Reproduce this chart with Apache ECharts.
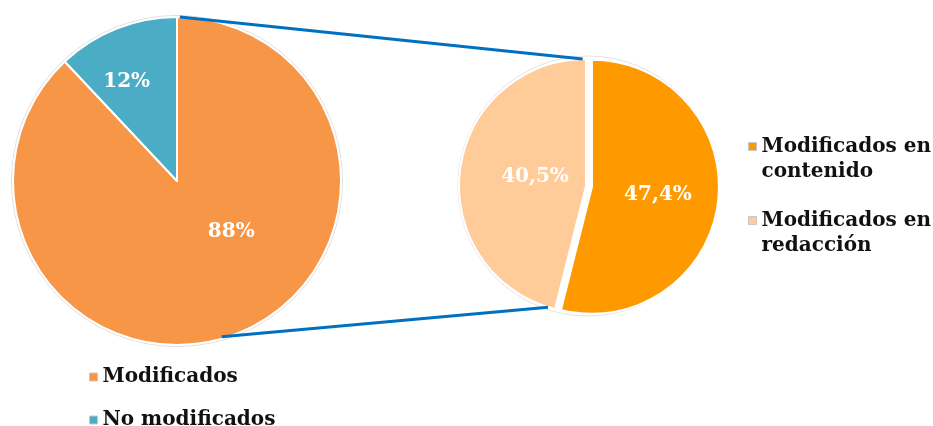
<!DOCTYPE html>
<html>
<head>
<meta charset="utf-8">
<script src="https://cdn.jsdelivr.net/npm/echarts@6/dist/echarts.min.js"></script>
<style>html,body{margin:0;padding:0;background:#fff}#c{width:933px;height:426px}</style>
</head>
<body>
<div id="c"></div>
<script>
// Data
const mainNames = ['Modificados', 'No modificados'];
const mainValues = [88, 12];
const mainLabels = ['88%', '12%'];
const subNames = ['Modificados en contenido', 'Modificados en redacción'];
const subValues = [47.4, 40.5];
const subLabels = ['47,4%', '40,5%'];

const FONT = 'DejaVu Serif';
const mainColors = ['#F79646', '#4BACC6'];
const subColors = ['#FF9900', '#FFCC99'];

const L = {c: [177, 181], r: 164};
const R = {c: [586, 186], r: 127};
function pt(p, deg, rr) {
  const a = deg * Math.PI / 180;
  return [p.c[0] + (rr || p.r) * Math.sin(a), p.c[1] - (rr || p.r) * Math.cos(a)];
}
const lt = pt(L, 1), lb = pt(L, 164, 162), rt = pt(R, -1.5), rb = pt(R, 197.4);

const chart = echarts.init(document.getElementById('c'));
const labelBase = {show: true, position: 'inside', color: '#fff', fontFamily: FONT, fontWeight: 'bold', fontSize: 20};
const mainOffsets = [[23, -28], [-19, -20]];
const subOffsets = [[5, 3], [15, -1]];
const legText = {fontFamily: FONT, fontWeight: 'bold', fontSize: 20, color: '#111'};

chart.setOption({
  animation: false,
  legend: [
    {
      data: mainNames, orient: 'vertical', left: 89, top: 366, height: 80, padding: 0,
      itemWidth: 8, itemHeight: 8, itemGap: 21,
      icon: 'rect', itemStyle: {borderColor: '#c8c8c8', borderWidth: 1},
      textStyle: Object.assign({lineHeight: 22}, legText)
    },
    {
      data: subNames, orient: 'vertical', left: 743, top: 104, itemWidth: 8, itemHeight: 8, itemGap: -1,
      icon: 'rect', itemStyle: {borderColor: '#c8c8c8', borderWidth: 1},
      formatter: function (n) {
        const parts = n.split(' en ');
        return ' \n' + parts[0] + ' en\n' + parts[1];
      },
      textStyle: Object.assign({lineHeight: 25}, legText)
    }
  ],
  series: [
    {
      type: 'pie', center: L.c, radius: L.r, startAngle: 90, clockwise: true,
      itemStyle: {borderColor: '#fff', borderWidth: 2},
      labelLine: {show: false},
      data: mainNames.map((n, i) => ({
        name: n, value: mainValues[i], itemStyle: {color: mainColors[i]},
        label: Object.assign({}, labelBase, {formatter: mainLabels[i], offset: mainOffsets[i]})
      }))
    },
    {
      type: 'pie', center: R.c, radius: R.r, startAngle: 90, clockwise: true,
      selectedMode: 'single', selectedOffset: 6,
      itemStyle: {borderColor: '#fff', borderWidth: 2},
      labelLine: {show: false},
      data: subNames.map((n, i) => ({
        name: n, value: subValues[i], selected: i === 0, itemStyle: {color: subColors[i]},
        label: Object.assign({}, labelBase, {formatter: subLabels[i], offset: subOffsets[i]})
      }))
    }
  ],
  graphic: [
    {type: 'circle', shape: {cx: L.c[0], cy: L.c[1], r: L.r + 1.5}, style: {fill: 'none', stroke: '#dcdcdc', lineWidth: 1}, z: -1},
    {type: 'circle', shape: {cx: R.c[0] + 2, cy: R.c[1], r: R.r + 3}, style: {fill: 'none', stroke: '#e2e2e2', lineWidth: 1}, z: -1},
    {type: 'line', shape: {x1: lt[0], y1: lt[1], x2: rt[0], y2: rt[1]}, style: {stroke: '#0070C0', lineWidth: 3}, z: 10},
    {type: 'line', shape: {x1: lb[0], y1: lb[1], x2: rb[0], y2: rb[1]}, style: {stroke: '#0070C0', lineWidth: 3}, z: 10}
  ]
});
</script>
</body>
</html>
